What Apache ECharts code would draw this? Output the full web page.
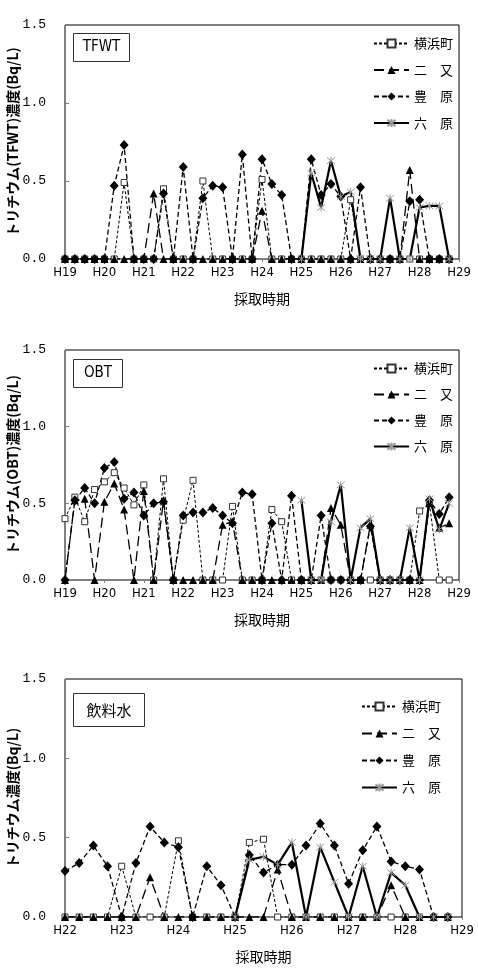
<!DOCTYPE html>
<html>
<head>
<meta charset="utf-8">
<script src="https://cdn.jsdelivr.net/npm/echarts@6/dist/echarts.min.js"></script>
<style>
  html, body { margin: 0; padding: 0; background: #fff; }
  #chart { width: 478px; height: 968px; }
</style>
</head>
<body>
<div id="chart"></div>
<script>
// tick labels
const yearsA = ['H19', 'H20', 'H21', 'H22', 'H23', 'H24', 'H25', 'H26', 'H27', 'H28', 'H29'];
const yearsB = ['H22', 'H23', 'H24', 'H25', 'H26', 'H27', 'H28', 'H29'];
const yTicks = [0, 0.5, 1.0, 1.5];
const seriesNames = ['横浜町', '二　又', '豊　原', '六　原'];

// TFWT (quarterly, H19 .. H28.75)
const tfwtYokohama = [0, 0, 0, 0, 0, 0, 0.49, 0, 0, 0, 0.45, 0, 0, 0, 0.50, 0, 0, 0, 0, 0,
  0.51, 0, 0, 0, 0, 0, 0, 0, 0, 0.38, 0, 0, 0, 0, 0, 0, 0, 0, 0, 0];
const tfwtFutamata = [0, 0, 0, 0, 0, 0, 0, 0, 0, 0.42, 0, 0, 0, 0, 0, 0, 0, 0, 0, 0,
  0.31, 0, 0, 0, 0, 0, 0, 0, 0, 0, 0, 0, 0, 0, 0, 0.57, 0, 0, 0, 0];
const tfwtToyohara = [0, 0, 0, 0, 0, 0.47, 0.73, 0, 0, 0, 0.42, 0, 0.59, 0, 0.39, 0.47, 0.46, 0, 0.67, 0,
  0.64, 0.48, 0.41, 0, 0, 0.64, 0.41, 0.48, 0.40, 0, 0.46, 0, 0, 0, 0, 0.37, 0.38, 0, 0, 0];
const tfwtRokuhara = [null, null, null, null, null, null, null, null, null, null, null, null, null, null, null, null, null, null, null, null,
  null, null, null, null, 0, 0.55, 0.33, 0.63, 0.40, 0.43, 0, 0, 0, 0.39, 0, 0, 0.33, 0.34, 0.34, 0];

// OBT (quarterly, H19 .. H28.75)
const obtYokohama = [0.40, 0.54, 0.38, 0.59, 0.64, 0.70, 0.60, 0.49, 0.62, 0, 0.66, 0, 0.39, 0.65, 0, 0, 0, 0.48, 0, 0,
  0, 0.46, 0.38, 0, 0, 0, 0, 0, 0, 0, 0, 0, 0, 0, 0, 0, 0.45, 0.50, 0, 0];
const obtFutamata = [0, 0.52, 0.53, 0, 0.51, 0.63, 0.46, 0, 0.58, 0, 0.52, 0, 0, 0, 0, 0, 0.36, 0.38, 0, 0,
  0, 0, 0, 0, 0, 0, 0, 0.47, 0.36, 0, 0, 0.36, 0, 0, 0, 0, 0, 0.50, 0.34, 0.37];
const obtToyohara = [0, 0.52, 0.60, 0.50, 0.73, 0.77, 0.53, 0.57, 0.42, 0.50, 0.51, 0, 0.42, 0.44, 0.44, 0.47, 0.42, 0.37, 0.57, 0.56,
  0, 0.37, 0, 0.55, 0, 0, 0.42, 0, 0, 0, 0, 0.35, 0, 0, 0, 0, 0, 0.52, 0.43, 0.54];
const obtRokuhara = [null, null, null, null, null, null, null, null, null, null, null, null, null, null, null, null, null, null, null, null,
  null, null, null, null, 0.52, 0, 0, 0.38, 0.62, 0, 0.34, 0.40, 0, 0, 0, 0.34, 0, 0.53, 0.33, 0.50];

// 飲料水 (quarterly, H22 .. H28.75)
const waterYokohama = [0, 0, 0, 0, 0.32, 0, 0, 0, 0.48, 0, 0, 0, 0, 0.47, 0.49, 0, 0, 0, 0, 0, 0, 0, 0, 0, 0, 0, 0, 0];
const waterFutamata = [0, 0, 0, 0, 0, 0, 0.25, 0, 0, 0, 0, 0, 0, 0, 0, 0.30, 0, 0, 0, 0, 0, 0, 0, 0.20, 0, 0, 0, 0];
const waterToyohara = [0.29, 0.34, 0.45, 0.32, 0, 0.34, 0.57, 0.47, 0.44, 0, 0.32, 0.20, 0, 0.39, 0.28, 0.33, 0.33, 0.45, 0.59, 0.45,
  0.21, 0.42, 0.57, 0.35, 0.32, 0.30, 0, 0];
const waterRokuhara = [null, null, null, null, null, null, null, null, null, null, null, null, 0, 0.36, 0.38, 0.33, 0.47, 0, 0.44, 0.22,
  0, 0.32, 0, 0.28, 0.20, 0, 0, 0];

// quarter categories built from the year labels
function quarters(years) {
  const out = [];
  years.forEach(function (y, k) {
    if (k === years.length - 1) { out.push(y); return; }
    for (let q = 0; q < 4; q++) out.push(q === 0 ? y : y + '-' + (q + 1));
  });
  return out;
}

const JP = "'Noto Sans CJK JP', sans-serif";
const NUM = "'Liberation Mono', 'DejaVu Sans Mono', monospace";
const NARROW = "'Liberation Sans Narrow', 'DejaVu Sans Condensed', 'Noto Sans CJK JP', sans-serif";
const asterisk = 'path://M5,0L5,10M1,1L9,9M9,1L1,9';

const styles = [
  { symbol: 'rect', symbolSize: 6, itemStyle: { color: '#fff', borderColor: '#333', borderWidth: 1 },
    lineStyle: { color: '#000', width: 1, type: [3, 2] } },
  { symbol: 'triangle', symbolSize: 8, itemStyle: { color: '#000' },
    lineStyle: { color: '#000', width: 1.3, type: [10, 5] } },
  { symbol: 'diamond', symbolSize: [9, 10], itemStyle: { color: '#000' },
    lineStyle: { color: '#000', width: 1.3, type: [5, 3] } },
  { symbol: asterisk, symbolSize: 8, itemStyle: { color: '#999', borderColor: '#999', borderWidth: 1 },
    lineStyle: { color: '#000', width: 2.2, type: 'solid' } }
];

const panels = [
  { label: 'TFWT', yName: 'トリチウム(TFWT)濃度(Bq/L)', cats: quarters(yearsA),
    data: [tfwtYokohama, tfwtFutamata, tfwtToyohara, tfwtRokuhara],
    grid: { left: 65, top: 25, width: 394, height: 234 },
    legend: { right: 20, top: 32, itemGap: 13.5 },
    box: { x: 73, y: 33, w: 56, h: 28 } },
  { label: 'OBT', yName: 'トリチウム(OBT)濃度(Bq/L)', cats: quarters(yearsA),
    data: [obtYokohama, obtFutamata, obtToyohara, obtRokuhara],
    grid: { left: 65, top: 350, width: 394, height: 230 },
    legend: { right: 20, top: 357, itemGap: 13 },
    box: { x: 73, y: 359, w: 49, h: 28 } },
  { label: '飲料水', yName: 'トリチウム濃度(Bq/L)', cats: quarters(yearsB),
    data: [waterYokohama, waterFutamata, waterToyohara, waterRokuhara],
    grid: { left: 65, top: 679, width: 397, height: 238 },
    legend: { right: 32, top: 695, itemGap: 14 },
    box: { x: 73, y: 693, w: 71, h: 33 } }
];

const everyYear = function (index) { return index % 4 === 0; };

const option = {
  animation: false,
  backgroundColor: '#fff',
  grid: [], xAxis: [], yAxis: [], legend: [], series: [], graphic: []
};

panels.forEach(function (p, k) {
  option.grid.push(Object.assign({ show: true, borderColor: '#000', borderWidth: 1, outerBoundsMode: 'none', containLabel: false }, p.grid));
  option.xAxis.push({
    type: 'category', gridIndex: k, data: p.cats, boundaryGap: false,
    axisLine: { lineStyle: { color: '#808080', width: 1 } },
    axisTick: { show: true, interval: everyYear, length: 3, lineStyle: { color: '#808080' } },
    axisLabel: { interval: everyYear, color: '#000', fontSize: 13, fontFamily: NARROW, margin: 7 },
    name: '採取時期', nameLocation: 'middle', nameGap: 33, nameMoveOverlap: false,
    nameTextStyle: { color: '#000', fontSize: 14, fontFamily: JP }
  });
  option.yAxis.push({
    type: 'value', gridIndex: k,
    min: yTicks[0], max: yTicks[yTicks.length - 1], interval: yTicks[1] - yTicks[0],
    axisLine: { show: true, lineStyle: { color: '#808080', width: 1 } },
    axisTick: { show: true, inside: true, length: 4, lineStyle: { color: '#808080' } },
    splitLine: { show: false },
    axisLabel: { formatter: function (v) { return v.toFixed(1); }, color: '#000', fontSize: 13, fontFamily: NUM, margin: 19 },
    name: p.yName, nameLocation: 'middle', nameRotate: 90, nameGap: 45, nameMoveOverlap: false,
    nameTextStyle: { color: '#000', fontSize: 14, fontWeight: 'bold', fontFamily: JP }
  });
  option.legend.push({
    data: seriesNames, orient: 'vertical', right: p.legend.right, top: p.legend.top,
    itemWidth: 35, itemHeight: 10, itemGap: p.legend.itemGap, selectedMode: false,
    textStyle: { color: '#000', fontSize: 13, fontFamily: JP }
  });
  p.data.forEach(function (vals, s) {
    option.series.push(Object.assign({
      name: seriesNames[s], type: 'line', xAxisIndex: k, yAxisIndex: k,
      data: vals, showSymbol: true, showAllSymbol: true, connectNulls: false
    }, styles[s]));
  });
  option.graphic.push({
    type: 'group', left: p.box.x, top: p.box.y,
    children: [
      { type: 'rect', shape: { x: 0, y: 0, width: p.box.w, height: p.box.h },
        style: { fill: '#fff', stroke: '#333', lineWidth: 1 } },
      { type: 'text', x: p.box.w / 2, y: p.box.h / 2,
        style: { text: p.label, align: 'center', verticalAlign: 'middle', fill: '#000',
          fontSize: 15, fontFamily: k === 2 ? JP : NARROW } }
    ]
  });
});

const chart = echarts.init(document.getElementById('chart'));
chart.setOption(option);
</script>
</body>
</html>
